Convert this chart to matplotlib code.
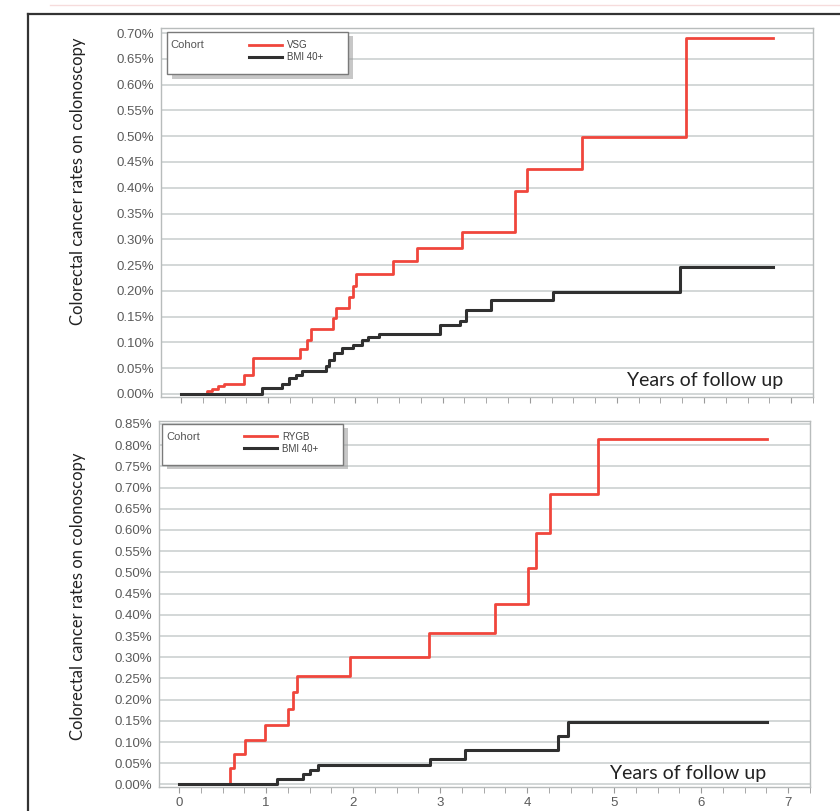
#!/usr/bin/env python3

import numpy as np
import matplotlib
matplotlib.use("Agg")
import matplotlib.pyplot as plt
from matplotlib.lines import Line2D
from matplotlib.patches import Rectangle
from matplotlib.ticker import MultipleLocator, FuncFormatter

plt.rcParams["font.family"] = ["Liberation Sans", "DejaVu Sans"]

# Cumulative colorectal cancer rates (%) vs. years of follow up, step curves
vsg_t = [0, 0.30, 0.36, 0.42, 0.49, 0.72, 0.82, 1.36, 1.45, 1.49, 1.74, 1.78,
         1.93, 1.97, 2.01, 2.43, 2.71, 3.22, 3.83, 3.97, 4.60, 5.79, 6.79]
vsg_v = [0, 0.005, 0.010, 0.015, 0.020, 0.037, 0.070, 0.087, 0.105, 0.125,
         0.147, 0.167, 0.189, 0.210, 0.233, 0.257, 0.283, 0.315, 0.394, 0.436,
         0.499, 0.690, 0.690]

bmi1_t = [0, 0.93, 1.16, 1.24, 1.32, 1.39, 1.66, 1.70, 1.75, 1.85, 1.97, 2.08,
          2.14, 2.27, 2.97, 3.20, 3.27, 3.56, 4.27, 5.72, 6.79]
bmi1_v = [0, 0.012, 0.020, 0.030, 0.037, 0.045, 0.055, 0.065, 0.080, 0.090,
          0.095, 0.105, 0.110, 0.116, 0.133, 0.141, 0.162, 0.183, 0.198, 0.246,
          0.246]

rygb_t = [0, 0.59, 0.63, 0.76, 0.99, 1.25, 1.31, 1.36, 1.97, 2.87, 3.63, 4.01,
          4.10, 4.26, 4.81, 6.76]
rygb_v = [0, 0.039, 0.071, 0.104, 0.141, 0.178, 0.217, 0.255, 0.300, 0.356,
          0.425, 0.510, 0.594, 0.685, 0.814, 0.814]

bmi2_t = [0, 1.13, 1.43, 1.51, 1.60, 2.88, 3.29, 4.35, 4.47, 6.76]
bmi2_v = [0, 0.014, 0.024, 0.035, 0.047, 0.061, 0.082, 0.114, 0.148, 0.148]

RED = "#f0463c"
BLACK = "#303030"
GRID = "#d3d7d7"
TICKC = "#5a5a5a"

W, H = 840, 811
fig = plt.figure(figsize=(W / 100, H / 100), dpi=100)
fig.patch.set_facecolor("white")


def px_axes(l, t, r, b):
    return fig.add_axes([l / W, 1 - b / H, (r - l) / W, (b - t) / H])


def style(ax, ymax, show_xlabels, label_xy):
    ax.set_xlim(-0.23, 7.25)
    ax.set_ylim(-0.006, ymax)
    ax.yaxis.set_major_locator(MultipleLocator(0.05))
    ax.yaxis.set_major_formatter(FuncFormatter(lambda v, p: "%.2f%%" % v))
    ax.set_xticks(np.arange(0, 8))
    ax.xaxis.set_minor_locator(MultipleLocator(0.25))
    ax.grid(axis="y", color=GRID, lw=1.4)
    ax.set_axisbelow(True)
    for s in ax.spines.values():
        s.set_color("#b8bcbc")
        s.set_linewidth(1.0)
    ax.tick_params(axis="y", length=0, labelsize=9.5, labelcolor=TICKC, pad=5)
    ax.tick_params(axis="x", which="both", direction="out", color="#9a9a9a",
                   length=4, labelsize=9.5, labelcolor=TICKC)
    if not show_xlabels:
        ax.set_xticklabels([])
    ax.set_ylabel("Colorectal cancer rates on colonoscopy", fontsize=12,
                  family="Lato", color="#222222")
    ax.yaxis.set_label_coords(*label_xy)


def cohort_box(ax, x0, y0, x1, y1):
    # shadowed frame holding the cohort legend
    sh = Rectangle((x0 + 0.008, y0 - 0.012), x1 - x0, y1 - y0,
                   transform=ax.transAxes, facecolor="#9a9a9a", edgecolor="none",
                   alpha=0.55, zorder=4)
    box = Rectangle((x0, y0), x1 - x0, y1 - y0, transform=ax.transAxes,
                    facecolor="white", edgecolor="#7a7a7a", lw=1.0, zorder=5)
    ax.add_patch(sh)
    ax.add_patch(box)
    ax.text(x0 + 0.006, y1 - 0.035, "Cohort", transform=ax.transAxes,
            fontsize=8, color="#555555", va="center", zorder=6)
    leg = ax.legend(loc="upper left", bbox_to_anchor=(x0 + 0.115, y1 - 0.003),
                    frameon=False, fontsize=7, handlelength=3.4,
                    handletextpad=0.5, labelspacing=0.2, borderpad=0.2)
    leg.set_zorder(7)
    for t in leg.get_texts():
        t.set_color("#444444")


# upper panel: VSG
ax1 = px_axes(161, 28, 813, 397)
ax1.step(vsg_t, vsg_v, where="post", color=RED, lw=2.0, label="VSG", zorder=3)
ax1.step(bmi1_t, bmi1_v, where="post", color=BLACK, lw=2.2, label="BMI 40+",
         zorder=3)
style(ax1, 0.71, False, (-0.115, 0.585))
cohort_box(ax1, 0.009, 0.875, 0.287, 0.989)
ax1.text(0.834, 0.046, "Years of follow up", transform=ax1.transAxes,
         ha="center", va="center", fontsize=14, family="Lato",
         color="#222222")

# lower panel: RYGB
ax2 = px_axes(159, 421, 810, 787)
ax2.step(rygb_t, rygb_v, where="post", color=RED, lw=2.0, label="RYGB",
         zorder=3)
ax2.step(bmi2_t, bmi2_v, where="post", color=BLACK, lw=2.2, label="BMI 40+",
         zorder=3)
style(ax2, 0.857, True, (-0.112, 0.52))
cohort_box(ax2, 0.005, 0.88, 0.283, 0.992)
ax2.text(0.813, 0.038, "Years of follow up", transform=ax2.transAxes,
         ha="center", va="center", fontsize=14, family="Lato",
         color="#222222")

# page frame around the figure
fig.add_artist(Line2D([28 / W, 28 / W], [0, 1 - 14 / H], color="#333333",
                      lw=1.6))
fig.add_artist(Line2D([28 / W, 1], [1 - 14 / H, 1 - 14 / H], color="#333333",
                      lw=1.6))
fig.add_artist(Line2D([0.06, 1], [1 - 5 / H, 1 - 5 / H], color="#f6dcdc",
                      lw=1.0))

fig.savefig("out.png", dpi=100)
